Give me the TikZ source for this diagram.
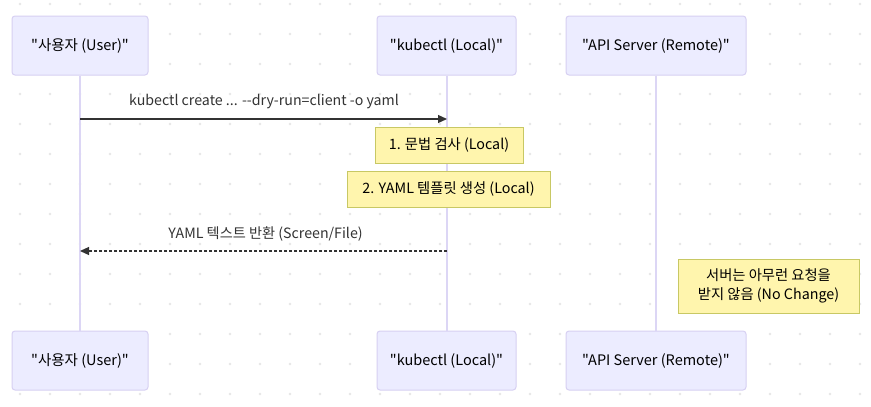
\documentclass[tikz,border=0pt]{standalone}
\usepackage{fontspec}
\newfontfamily\kr{Noto Sans CJK KR}
\usetikzlibrary{arrows.meta}
\definecolor{actfill}{HTML}{ECECFF}
\definecolor{actdraw}{HTML}{D7D0F2}
\definecolor{lifeline}{HTML}{DCD6F5}
\definecolor{notefill}{HTML}{FFF5AD}
\definecolor{notedraw}{HTML}{C8C864}
\definecolor{txt}{HTML}{333333}
\definecolor{dotc}{HTML}{E6E6E6}
\tikzset{
  actor/.style={draw=actdraw, fill=actfill, line width=1pt, rounded corners=3pt, minimum height=59pt, inner sep=0pt, text=black, font=\kr\fontsize{14.5}{17}\selectfont},
  note/.style={draw=notedraw, fill=notefill, line width=1pt, inner sep=0pt, text=black, font=\kr\fontsize{14.3}{19}\selectfont, align=center},
  life/.style={draw=lifeline, line width=2pt},
  msg/.style={text=txt, font=\kr\fontsize{14.2}{16}\selectfont},
  arr/.style={draw=txt, line width=1.2pt, -{Triangle[length=9pt,width=8pt]}},
}
\begin{document}
\begin{tikzpicture}[x=1pt,y=-1pt]
\useasboundingbox (0,0) rectangle (871,407);
\fill[white] (0,0) rectangle (871,407);
\foreach \i in {0,...,28} {\foreach \j in {0,...,13} {\fill[dotc] (20+30*\i,4+30*\j) circle (1.4pt);}}
% actors
\node[actor, minimum width=136pt] (ut) at (80,45.5) {"사용자 (User)"};
\node[actor, minimum width=139pt] (kt) at (446.5,45.5) {"kubectl (Local)"};
\node[actor, minimum width=180pt] (at) at (656,45.5) {"API Server (Remote)"};
\node[actor, minimum width=136pt] (ub) at (80,360.5) {"사용자 (User)"};
\node[actor, minimum width=139pt] (kb) at (446.5,360.5) {"kubectl (Local)"};
\node[actor, minimum width=180pt] (ab) at (656,360.5) {"API Server (Remote)"};
% lifelines
\draw[life] (ut.south) -- (ub.north);
\draw[life] (kt.south) -- (kb.north);
\draw[life] (at.south) -- (ab.north);
% message 1
\coordinate (u1) at (80,119);
\coordinate (k1) at (447,119);
\draw[arr] (u1) -- (k1);
\node[msg] (m1) at (264,102) {kubectl create ... --dry-run=client -o yaml};
% notes
\node[note, minimum width=148pt, minimum height=36pt] (n1) at (449,145) {1. 문법 검사 (Local)};
\node[note, minimum width=203pt, minimum height=36pt] (n2) at (448.5,189) {2. YAML 템플릿 생성 (Local)};
% message 2
\coordinate (k2) at (447,251);
\coordinate (u2) at (80,251);
\draw[arr, dash pattern=on 3pt off 2pt] (k2) -- (u2);
\node[msg] (m2) at (265.5,234) {YAML 텍스트 반환 (Screen/File)};
% note 3
\node[note, minimum width=181pt, minimum height=54pt] (n3) at (768.5,286) {서버는 아무런 요청을\\받지 않음 (No Change)};
\end{tikzpicture}
\end{document}
